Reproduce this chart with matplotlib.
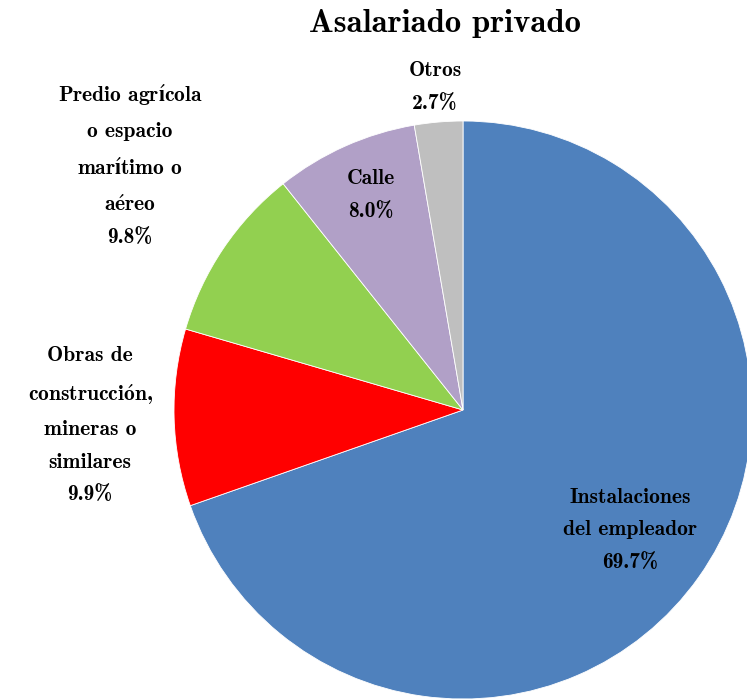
import matplotlib
matplotlib.use("Agg")
import matplotlib.pyplot as plt

plt.rcParams["mathtext.fontset"] = "cm"

# Datos (acentos vía mathtext para mantener la tipografía Computer Modern)
categorias = [
    "Instalaciones\ndel empleador",
    "Obras de\nconstrucci$\\mathbf{\\acute{o}}$n,\nmineras o\nsimilares",
    "Predio agr$\\mathbf{\\acute{ı}}$cola\no espacio\nmar$\\mathbf{\\acute{ı}}$timo o\na$\\mathbf{\\acute{e}}$reo",
    "Calle",
    "Otros",
]
porcentajes = [69.7, 9.9, 9.8, 8.0, 2.7]
colores = ["#4F81BD", "#FF0000", "#92D050", "#B1A0C7", "#BFBFBF"]

# posiciones de etiquetas (coordenadas del círculo unitario)
pos_etiquetas = [(0.578, -0.415), (-1.29, -0.052), (-1.152, 0.848),
                 (-0.318, 0.744), (-0.097, 1.118)]

W, H = 747, 700
cx, cy, r = 463, 290, 289

fig = plt.figure(figsize=(W / 100, H / 100), dpi=100)
ax = fig.add_axes([0, 0, 1, 1])

ax.pie(porcentajes, colors=colores, startangle=90, counterclock=False,
       radius=1.0, center=(0, 0), frame=True,
       wedgeprops=dict(edgecolor="white", linewidth=0.6))
ax.set_xlim(-cx / r, (W - cx) / r)
ax.set_ylim(-cy / r, (H - cy) / r)
ax.set_aspect("equal")
ax.axis("off")

fuente = ["cmb10", "DejaVu Serif"]
for cat, pct, (x, y) in zip(categorias, porcentajes, pos_etiquetas):
    ax.text(x, y, f"{cat}\n{pct:.1f}%", ha="center", va="center",
            fontsize=15.5, family=fuente, linespacing=1.9, color="black")

fig.text(445 / W, 1 - 23 / H, "Asalariado privado", ha="center", va="center",
         fontsize=23.5, family=fuente)

fig.savefig("out.png", dpi=100)
